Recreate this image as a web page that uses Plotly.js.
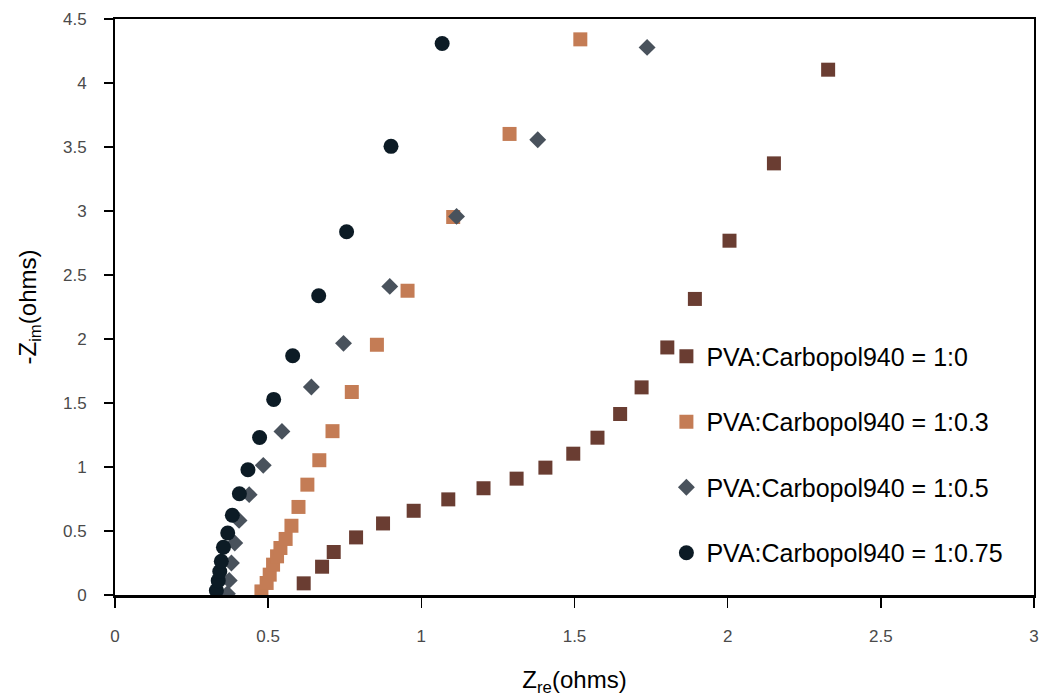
<!DOCTYPE html>
<html>
<head>
<meta charset="utf-8">
<script src="https://cdn.plot.ly/plotly-3.0.1.min.js"></script>
<style>html,body{margin:0;padding:0;background:#fff;}#chart{width:1041px;height:699px;}</style>
</head>
<body>
<div id="chart"></div>
<script>
// Series names
const seriesNames = ["PVA:Carbopol940 = 1:0", "PVA:Carbopol940 = 1:0.3", "PVA:Carbopol940 = 1:0.5", "PVA:Carbopol940 = 1:0.75"];

// 1:0
const zre_1_0 = [0.616,0.676,0.714,0.787,0.875,0.975,1.088,1.203,1.311,1.405,1.496,1.575,1.649,1.719,1.803,1.893,2.006,2.151,2.328];
const zim_1_0 = [0.091,0.221,0.336,0.450,0.559,0.658,0.747,0.834,0.909,0.995,1.104,1.229,1.414,1.622,1.934,2.313,2.768,3.372,4.104];

// 1:0.3
const zre_1_03 = [0.478,0.495,0.505,0.516,0.529,0.540,0.557,0.576,0.599,0.628,0.667,0.710,0.773,0.855,0.955,1.104,1.288,1.519];
const zim_1_03 = [0.028,0.094,0.159,0.237,0.302,0.367,0.438,0.541,0.688,0.862,1.053,1.280,1.586,1.955,2.377,2.953,3.602,4.341];

// 1:0.5
const zre_1_05 = [0.367,0.373,0.380,0.391,0.405,0.438,0.484,0.545,0.641,0.746,0.897,1.115,1.380,1.737];
const zim_1_05 = [0.010,0.114,0.250,0.406,0.583,0.784,1.013,1.278,1.625,1.966,2.411,2.958,3.557,4.278];

// 1:0.75
const zre_1_075 = [0.331,0.337,0.342,0.347,0.354,0.368,0.383,0.406,0.434,0.472,0.518,0.580,0.665,0.756,0.901,1.068];
const zim_1_075 = [0.035,0.112,0.184,0.263,0.373,0.484,0.623,0.791,0.979,1.231,1.528,1.869,2.338,2.838,3.505,4.309];

const xTicks = [0,0.5,1,1.5,2,2.5,3];
const xTickText = ["0","0.5","1","1.5","2","2.5","3"];
const yTicks = [0,0.5,1,1.5,2,2.5,3,3.5,4,4.5];
const yTickText = ["0","0.5","1","1.5","2","2.5","3","3.5","4","4.5"];

const colors = ["#6A3D32", "#C47C55", "#49525C", "#0C1B25"];
const symbols = ["square", "square", "diamond", "circle"];
const sizes = [14, 14, 13, 15];
const xs = [zre_1_0, zre_1_03, zre_1_05, zre_1_075];
const ys = [zim_1_0, zim_1_03, zim_1_05, zim_1_075];

const traces = seriesNames.map((n, i) => ({
  type: "scatter",
  mode: "markers",
  name: n,
  x: xs[i],
  y: ys[i],
  legendgroup: "g" + i,
  marker: {symbol: symbols[i], color: colors[i], size: sizes[i], line: {width: 0}}
}));

const layout = {
  width: 1041,
  height: 699,
  margin: {l: 115, r: 7, t: 19, b: 104},
  paper_bgcolor: "#ffffff",
  plot_bgcolor: "#ffffff",
  font: {family: "Liberation Sans, Arial, sans-serif", color: "#000"},
  showlegend: true,
  legend: {
    x: 0.6, y: 0.454, xanchor: "left", yanchor: "top",
    bgcolor: "rgba(0,0,0,0)",
    font: {size: 25, color: "#000", family: "Liberation Sans, Arial, sans-serif"},
    tracegroupgap: 30,
    itemwidth: 30
  },
  xaxis: {
    range: [0, 3],
    tickvals: xTicks, ticktext: xTickText,
    ticks: "outside", ticklen: 10, tickwidth: 1.5, tickcolor: "#000",
    showline: true, linecolor: "#000", linewidth: 2.5, mirror: true,
    showgrid: false, zeroline: false,
    tickfont: {size: 17, color: "#4a4a4a"},
    ticklabelstandoff: 14,
    title: {text: "Z<sub>re</sub>(ohms)", font: {size: 24, color: "#000"}, standoff: 27}
  },
  yaxis: {
    range: [0, 4.5],
    tickvals: yTicks, ticktext: yTickText,
    ticks: "outside", ticklen: 9, tickwidth: 1.5, tickcolor: "#000",
    showline: true, linecolor: "#000", linewidth: 2, mirror: true,
    showgrid: false, zeroline: false,
    tickfont: {size: 17, color: "#4a4a4a"},
    ticklabelstandoff: 14,
    title: {text: "-Z<sub>im</sub>(ohms)", font: {size: 24, color: "#000"}, standoff: 20}
  }
};

Plotly.newPlot("chart", traces, layout, {displayModeBar: false, staticPlot: true});
</script>
</body>
</html>
